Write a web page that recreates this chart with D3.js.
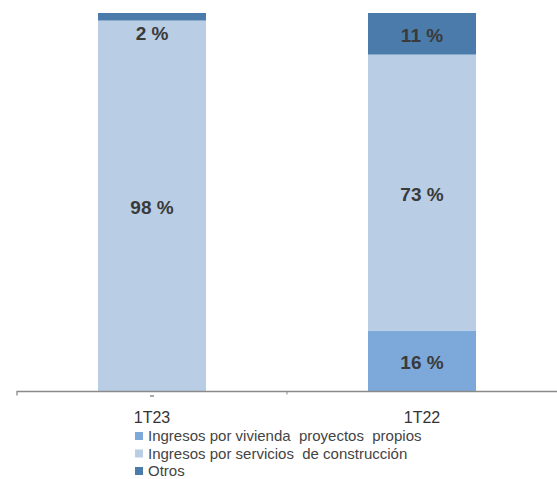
<!DOCTYPE html>
<html><head><meta charset="utf-8">
<script src="https://cdn.jsdelivr.net/npm/d3@7"></script>
<style>body{margin:0;background:#fff}svg{display:block;font-family:"Liberation Sans",Arial,sans-serif}</style>
</head><body><svg id="c" width="557" height="479"></svg>
<script>
const categories = ["1T23", "1T22"];
const seriesNames = ["Ingresos por vivienda  proyectos  propios", "Ingresos por servicios  de construcción", "Otros"];
const vivienda = [0, 16];
const servicios = [98, 73];
const otros = [2, 11];
const colors = ["#7DA9DA", "#B9CDE5", "#4A7BAB"];

const svg = d3.select("#c");
const x = d3.scaleBand().domain(categories).range([17, 557]).paddingInner(0.6).paddingOuter(0.3);
const y = d3.scaleLinear().domain([0, 100]).range([391, 13]);

const rows = categories.map((c, i) => ({cat: c, v0: vivienda[i], v1: servicios[i], v2: otros[i]}));
const stack = d3.stack().keys(["v0", "v1", "v2"])(rows);

stack.forEach((layer, k) => {
  svg.append("g").selectAll("rect").data(layer).join("rect")
    .attr("x", d => x(d.data.cat))
    .attr("width", x.bandwidth())
    .attr("y", d => y(d[1]))
    .attr("height", d => y(d[0]) - y(d[1]))
    .attr("fill", colors[k]);
});

// labels
stack.forEach((layer, k) => {
  layer.forEach(d => {
    const v = d[1] - d[0];
    if (v <= 0) return;
    let cy = (y(d[0]) + y(d[1])) / 2 + 2;
    if (v < 5) cy = y(d[0]) + 13;
    svg.append("text")
      .attr("x", x(d.data.cat) + x.bandwidth() / 2)
      .attr("y", cy)
      .attr("dy", "0.35em")
      .attr("text-anchor", "middle")
      .attr("font-size", 19)
      .attr("font-weight", "bold")
      .attr("fill", "#3a3a3a")
      .text(v + " %");
  });
});

// axis
const xStep = d3.scaleBand().domain(categories).range([17, 557]);
const axis = svg.append("g").attr("transform", "translate(0,391.5)")
  .call(d3.axisBottom(xStep).tickSize(0).tickPadding(20));
axis.select(".domain").attr("stroke", "#8a8a8a").attr("stroke-width", 1.3).attr("d", "M17,4V0H557");
axis.selectAll("text").attr("font-size", 16).attr("fill", "#333").attr("font-family", "Liberation Sans, Arial, sans-serif");
// inner tick
axis.append("line").attr("x1", xStep.step() + 17).attr("x2", xStep.step() + 17).attr("y1", 0).attr("y2", 3).attr("stroke", "#8a8a8a");
// small dash under first category
const cx0 = xStep("1T23") + xStep.bandwidth() / 2;
axis.append("line").attr("x1", cx0 - 2).attr("x2", cx0 + 2).attr("y1", 4.5).attr("y2", 4.5).attr("stroke", "#555").attr("stroke-width", 1);

// legend
const lg = svg.append("g").attr("transform", "translate(135,436)");
seriesNames.forEach((n, i) => {
  const g = lg.append("g").attr("transform", `translate(0,${i * 17.5})`);
  g.append("rect").attr("x", 0).attr("y", -4).attr("width", 8).attr("height", 8).attr("fill", colors[i]);
  g.append("text").attr("x", 13).attr("y", 0).attr("dy", "0.35em").attr("font-size", 15).attr("fill", "#444")
    .style("white-space", "pre").text(n);
});
</script></body></html>
